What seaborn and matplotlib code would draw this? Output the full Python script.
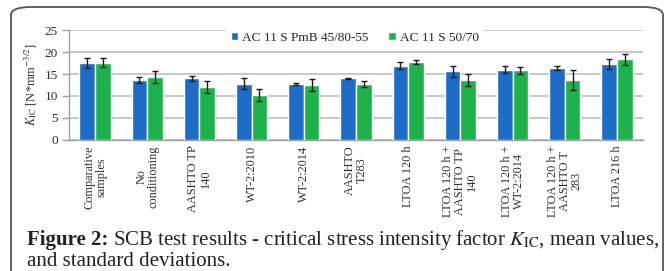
import matplotlib
matplotlib.use("Agg")
import matplotlib.pyplot as plt
from matplotlib.patches import FancyBboxPatch
import seaborn as sns
import pandas as pd
import numpy as np

categories = ["Comparative\nsamples", "No\nconditioning", "AASHTO TP\n140", "WT-2:2010",
              "WT-2:2014", "AASHTO\nT283", "LTOA 120 h", "LTOA 120 h +\nAASHTO TP\n140",
              "LTOA 120 h +\nWT-2:2014", "LTOA 120 h +\nAASHTO T\n283", "LTOA 216 h"]
series = ["AC 11 S PmB 45/80-55", "AC 11 S 50/70"]
pmb_mean = [17.5, 13.6, 14.0, 12.8, 12.8, 14.0, 16.9, 15.6, 16.0, 16.4, 17.2]
pmb_sd = [1.15, 0.65, 0.55, 1.2, 0.2, 0.2, 0.8, 1.3, 0.75, 0.4, 1.1]
std_mean = [17.6, 14.3, 12.0, 10.3, 12.6, 12.8, 17.7, 13.6, 15.8, 13.6, 18.4]
std_sd = [1.1, 1.35, 1.3, 1.35, 1.35, 0.7, 0.45, 1.35, 0.75, 2.3, 1.25]
colors = ["#1d6cc6", "#1fb24c"]

sns.set_theme(style="white")
plt.rcParams["font.family"] = ["Liberation Serif", "DejaVu Serif"]
plt.rcParams["mathtext.fontset"] = "stix"

df = pd.DataFrame({
    "cat": categories * 2,
    "series": [series[0]] * len(categories) + [series[1]] * len(categories),
    "val": pmb_mean + std_mean,
})
sds = [pmb_sd, std_sd]

fig = plt.figure(figsize=(6.65, 2.71), dpi=100)
ax = fig.add_axes([69 / 665, 1 - 140 / 271, 574 / 665, 110 / 271])

sns.barplot(data=df, x="cat", y="val", hue="series", palette=colors, width=0.6,
            gap=0, errorbar=None, saturation=1, ax=ax, zorder=3)

for cont, sd in zip(ax.containers, sds):
    xs = [b.get_x() + b.get_width() / 2 for b in cont]
    hs = [b.get_height() for b in cont]
    ax.errorbar(xs, hs, yerr=sd, fmt="none", ecolor="#1a1a1a", elinewidth=1.0,
                capsize=2.5, capthick=1.0, zorder=4)

ax.set_ylim(0, 25)
ax.set_xlim(-0.5, len(categories) - 0.5)
ax.set_yticks([0, 5, 10, 15, 20, 25])
ax.yaxis.grid(True, color="#c4c4c4", linewidth=1.3, zorder=0)
ax.set_axisbelow(True)
for s in ["top", "right"]:
    ax.spines[s].set_visible(False)
for s in ["left", "bottom"]:
    ax.spines[s].set_color("#a0a0a0")
    ax.spines[s].set_linewidth(1.0)

ax.set_xticks(range(len(categories)))
ax.set_xticklabels(categories, rotation=90, ha="center", va="top",
                   fontsize=8.8, linespacing=1.0, color="#303030")
ax.tick_params(axis="x", which="major", length=0, pad=4)
ax.set_xticks(np.arange(-0.5, len(categories), 1.0), minor=True)
ax.tick_params(axis="x", which="minor", length=4, color="#a0a0a0", width=1.0, direction="out")
ax.tick_params(axis="y", length=5, color="#a0a0a0", width=1.0, direction="out",
               labelsize=9.5, labelcolor="#303030", pad=3, left=True)

ax.set_xlabel("")
ax.set_ylabel(r"$K_{\mathrm{IC}}$ [N*mm$^{-3/2}$]", fontsize=9, color="#303030", labelpad=4)

handles, labels = ax.get_legend_handles_labels()
leg = ax.legend(handles, labels, loc="center", bbox_to_anchor=(0.498, 0.93), ncol=2,
                frameon=True, facecolor="white", edgecolor="white", framealpha=1,
                fontsize=9.5, handlelength=0.55, handleheight=0.55, handletextpad=0.3,
                columnspacing=1.5, borderpad=0.35, fancybox=False)
leg.set_zorder(5)

box = FancyBboxPatch((11 / 665, -0.2), (663 - 11) / 665, 1.2 - 7 / 271,
                     boxstyle="round,pad=0,rounding_size=0.03", transform=fig.transFigure,
                     facecolor="none", edgecolor="#555555", linewidth=1.3, clip_on=False)
fig.patches.append(box)

cap_fs = 15
t1 = fig.text(27 / 665, 1 - 240 / 271, "Figure 2:", fontsize=cap_fs, fontweight="bold",
              va="center", ha="left", color="#222222")
renderer = fig.canvas.get_renderer()
bb = t1.get_window_extent(renderer=renderer)
x_next = (bb.x1 + 5) / fig.bbox.width
fig.text(x_next, 1 - 240 / 271,
         r"SCB test results - critical stress intensity factor $K_{\mathrm{IC}}$, mean values,",
         fontsize=cap_fs, va="center", ha="left", color="#222222")
fig.text(27 / 665, 1 - 261 / 271, "and standard deviations.", fontsize=cap_fs,
         va="center", ha="left", color="#222222")

fig.savefig("out.png", dpi=100)
